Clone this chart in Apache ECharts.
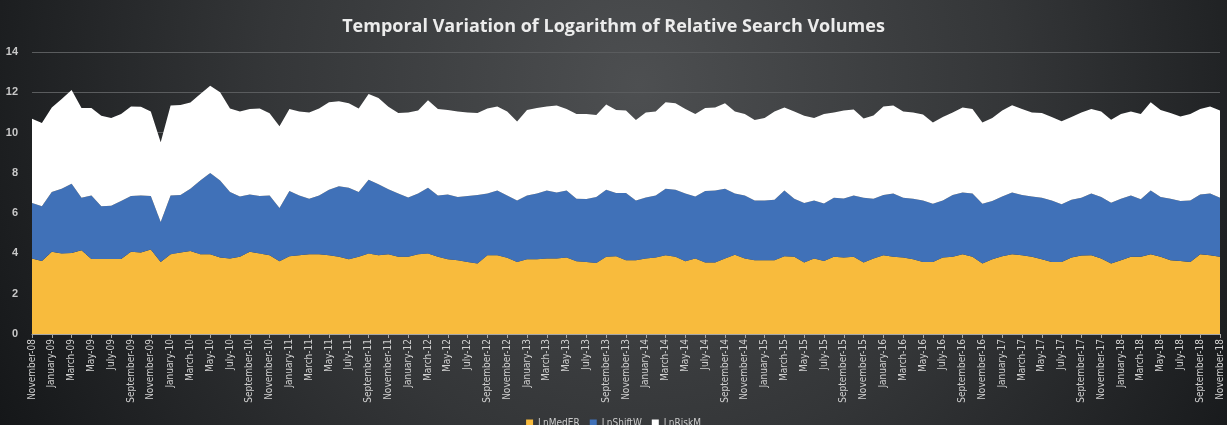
<!DOCTYPE html>
<html>
<head>
<meta charset="utf-8">
<title>Temporal Variation of Logarithm of Relative Search Volumes</title>
<script src="https://cdn.jsdelivr.net/npm/echarts@6/dist/echarts.min.js"></script>
<style>
    html, body { margin: 0; padding: 0; background: #1c1e20; }
    #chart { width: 1227px; height: 425px; }
</style>
</head>
<body>
<div id="chart"></div>
<script>
/*
 * 月份标签: November-08 ... November-18
 * */
var monthNames = ["January", "February", "March", "April", "May", "June",
    "July", "August", "September", "October", "November", "December"];
var startYear = 2008, startMonth = 10, monthCount = 121;

var yTicks = [0, 2, 4, 6, 8, 10, 12, 14];

// 读图得到的各序列数值 (堆叠)
var lnMedER = [
    3.75, 3.63, 4.08, 4.00, 4.02, 4.16, 3.72, 3.72, 3.72, 3.72, 4.08, 4.05, 4.20, 3.58, 3.96, 4.05, 4.12, 3.96, 3.96, 3.80,
    3.75, 3.83, 4.08, 4.00, 3.91, 3.61, 3.86, 3.91, 3.96, 3.96, 3.91, 3.83, 3.71, 3.83, 4.00, 3.91, 3.96, 3.83, 3.83, 3.96,
    4.00, 3.83, 3.71, 3.66, 3.58, 3.50, 3.91, 3.91, 3.78, 3.58, 3.71, 3.71, 3.75, 3.75, 3.80, 3.61, 3.58, 3.53, 3.83, 3.86,
    3.66, 3.66, 3.75, 3.80, 3.91, 3.83, 3.61, 3.75, 3.55, 3.55, 3.75, 3.93, 3.75, 3.66, 3.66, 3.66, 3.86, 3.83, 3.55, 3.75,
    3.62, 3.83, 3.80, 3.83, 3.55, 3.75, 3.91, 3.83, 3.80, 3.71, 3.58, 3.58, 3.80, 3.83, 3.96, 3.83, 3.50, 3.71, 3.86, 3.96,
    3.91, 3.83, 3.71, 3.58, 3.58, 3.80, 3.90, 3.91, 3.75, 3.50, 3.66, 3.83, 3.83, 3.96, 3.83, 3.66, 3.63, 3.58, 3.96, 3.91,
    3.83
];
var lnShiftW = [
    2.75, 2.71, 2.97, 3.21, 3.44, 2.61, 3.16, 2.62, 2.65, 2.88, 2.77, 2.83, 2.65, 1.98, 2.92, 2.85, 3.09, 3.66, 4.03, 3.82,
    3.30, 3.00, 2.85, 2.85, 2.97, 2.64, 3.24, 2.97, 2.76, 2.92, 3.25, 3.50, 3.55, 3.22, 3.66, 3.52, 3.22, 3.15, 2.95, 3.02,
    3.26, 3.05, 3.22, 3.14, 3.27, 3.40, 3.07, 3.22, 3.10, 3.05, 3.17, 3.27, 3.38, 3.28, 3.33, 3.11, 3.12, 3.27, 3.33, 3.14,
    3.34, 2.97, 3.03, 3.08, 3.30, 3.33, 3.37, 3.08, 3.55, 3.58, 3.46, 3.05, 3.13, 2.97, 2.97, 3.01, 3.27, 2.89, 2.95, 2.88,
    2.86, 2.94, 2.93, 3.05, 3.22, 2.97, 2.99, 3.15, 2.97, 3.01, 3.05, 2.89, 2.83, 3.07, 3.07, 3.15, 2.97, 2.89, 2.97, 3.07,
    2.99, 3.00, 3.06, 3.05, 2.86, 2.87, 2.87, 3.07, 3.05, 3.02, 3.06, 3.05, 2.86, 3.17, 2.97, 3.06, 2.97, 3.05, 2.97, 3.07,
    2.94
];
var lnRiskM = [
    4.19, 4.14, 4.20, 4.46, 4.65, 4.45, 4.34, 4.50, 4.35, 4.32, 4.45, 4.40, 4.19, 3.96, 4.46, 4.47, 4.28, 4.29, 4.34, 4.38,
    4.15, 4.21, 4.24, 4.35, 4.08, 4.06, 4.07, 4.16, 4.28, 4.32, 4.34, 4.22, 4.19, 4.15, 4.25, 4.29, 4.10, 3.99, 4.22, 4.12,
    4.34, 4.29, 4.19, 4.25, 4.15, 4.07, 4.22, 4.16, 4.17, 3.92, 4.24, 4.24, 4.16, 4.31, 4.04, 4.20, 4.22, 4.07, 4.23, 4.12,
    4.10, 4.00, 4.22, 4.17, 4.29, 4.29, 4.19, 4.09, 4.12, 4.12, 4.24, 4.07, 4.04, 4.00, 4.09, 4.38, 4.12, 4.33, 4.34, 4.09,
    4.44, 4.23, 4.37, 4.26, 3.93, 4.13, 4.40, 4.36, 4.28, 4.28, 4.27, 4.03, 4.14, 4.10, 4.22, 4.19, 4.03, 4.12, 4.27, 4.33,
    4.27, 4.17, 4.20, 4.14, 4.12, 4.10, 4.23, 4.19, 4.24, 4.12, 4.20, 4.17, 4.23, 4.37, 4.32, 4.25, 4.20, 4.29, 4.24, 4.32,
    4.33
];

var categories = [];
for (var i = 0; i < monthCount; i++) {
    var m = (startMonth + i) % 12;
    var y = startYear + Math.floor((startMonth + i) / 12);
    categories.push(monthNames[m] + "-" + String(y % 100).padStart(2, "0"));
}

var chart = echarts.init(document.getElementById("chart"));

function areaSeries(name, data, color) {
    return {
        name: name,
        type: "line",
        stack: "total",
        symbol: "none",
        lineStyle: {width: 0},
        areaStyle: {color: color, opacity: 1},
        itemStyle: {color: color},
        data: data
    };
}

var narrowFont = "Liberation Sans Narrow, DejaVu Sans Condensed, sans-serif";

var option = {
    backgroundColor: {
        type: "radial",
        x: 0.52, y: 0.2, r: 1.75,
        colorStops: [
            {offset: 0, color: "#4d4f51"},
            {offset: 0.5, color: "#343638"},
            {offset: 1, color: "#131517"}
        ]
    },
    title: {
        text: "Temporal Variation of Logarithm of Relative Search Volumes",
        left: "center",
        top: 13,
        textStyle: {
            color: "#ececec",
            fontFamily: "Open Sans",
            fontWeight: "bold",
            fontSize: 18
        }
    },
    legend: {
        bottom: -8,
        left: "center",
        icon: "rect",
        itemWidth: 7,
        itemHeight: 7,
        itemGap: 10,
        textStyle: {color: "#cccccc", fontSize: 10, fontFamily: narrowFont},
        data: ["LnMedER", "LnShiftW", "LnRiskM"]
    },
    grid: {
        left: 32,
        right: 7,
        top: 52,
        bottom: 91
    },
    xAxis: {
        type: "category",
        boundaryGap: false,
        data: categories,
        axisLine: {lineStyle: {color: "#a6a6a6", width: 1}},
        axisTick: {interval: 1, length: 4, lineStyle: {color: "#a6a6a6"}},
        axisLabel: {
            interval: 1,
            rotate: 90,
            color: "#d0d0d0",
            fontSize: 10,
            margin: 5,
            fontFamily: narrowFont
        }
    },
    yAxis: {
        type: "value",
        min: yTicks[0],
        max: yTicks[yTicks.length - 1],
        interval: 2,
        axisLine: {show: false},
        axisTick: {show: false},
        axisLabel: {color: "#c8c8c8", fontSize: 11, fontWeight: "bold", margin: 14},
        splitLine: {lineStyle: {color: "#5a5c5e", width: 1}}
    },
    series: [
        areaSeries("LnMedER", lnMedER, "#f8bb3d"),
        areaSeries("LnShiftW", lnShiftW, "#4071b8"),
        areaSeries("LnRiskM", lnRiskM, "#ffffff")
    ]
};

chart.setOption(option);
</script>
</body>
</html>
